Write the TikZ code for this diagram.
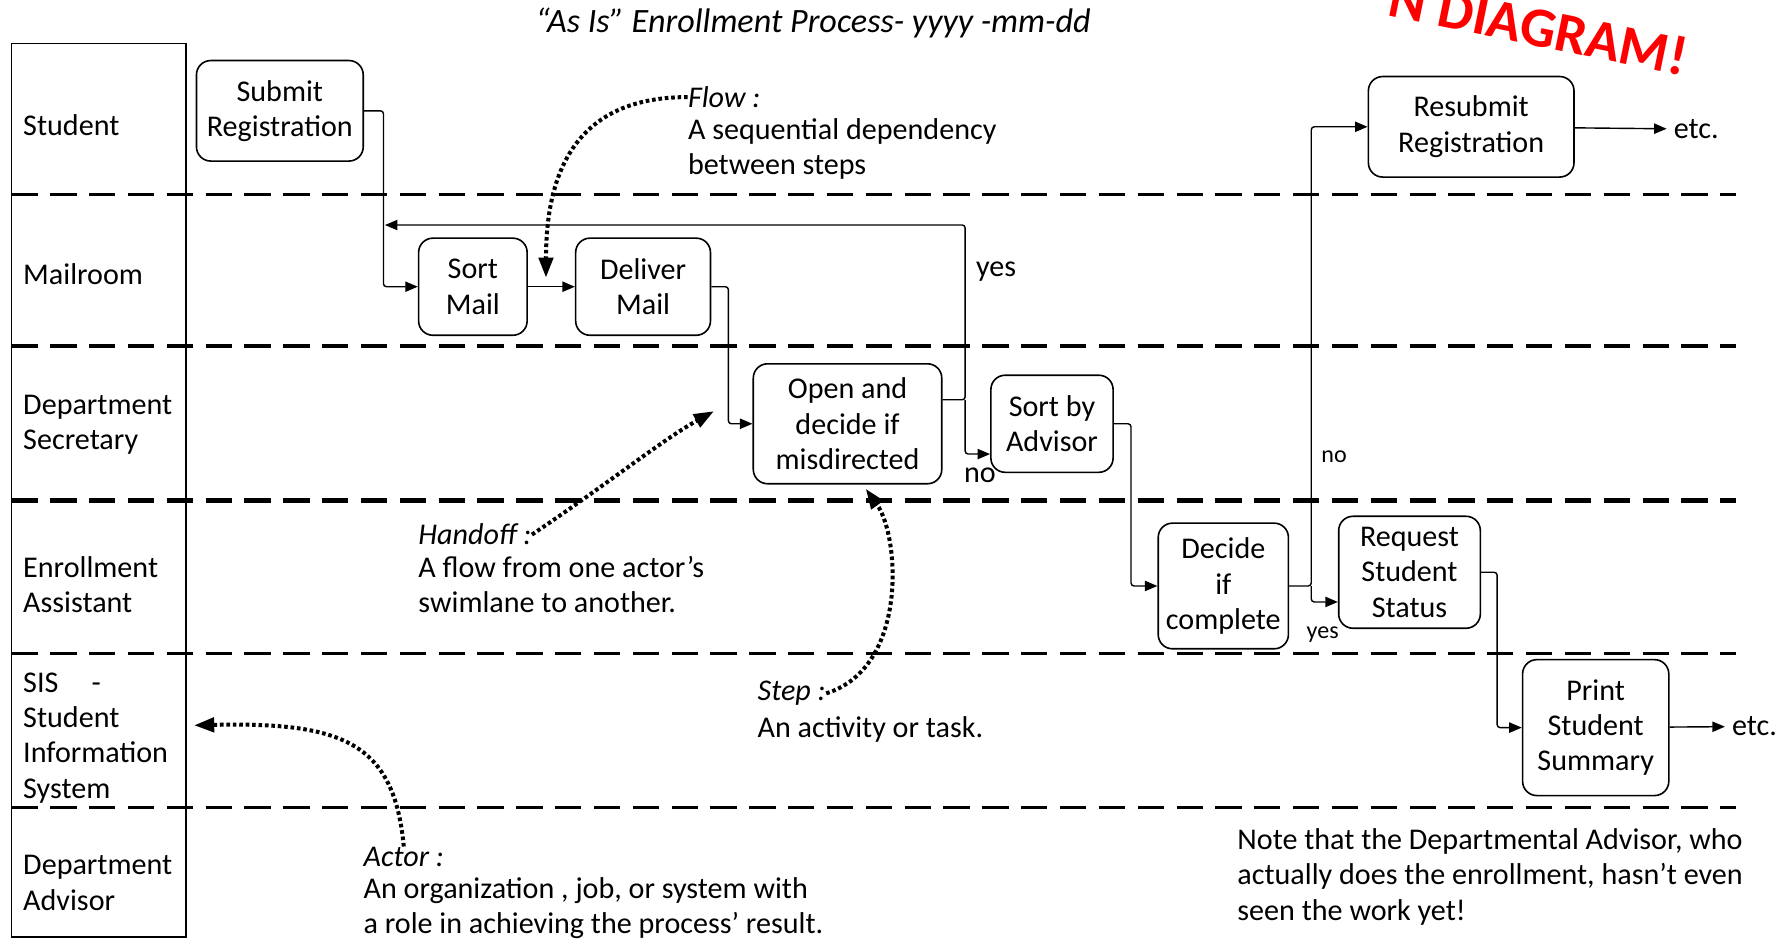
\documentclass[tikz,border=0pt]{standalone}
\usepackage{fontspec}
\setmainfont{Carlito}
\usetikzlibrary{arrows.meta,positioning}
\newcommand{\boxfont}{\fontsize{15}{17.6}\selectfont}
\newcommand{\tinyfont}{\fontsize{12}{14}\selectfont}
\newcommand{\lanewidth}{1.6pt}
\tikzset{
  stepbox/.style={draw, line width=0.8pt, rounded corners=2.5mm, align=center, inner sep=2pt, font=\boxfont},
  lanename/.style={anchor=west, align=left, inner sep=0pt, font=\boxfont},
  keyword/.style={anchor=west, inner sep=0pt, font=\boxfont\itshape},
  note/.style={anchor=north west, align=left, inner sep=0pt, font=\boxfont},
  link/.style={draw, line width=0.7pt, rounded corners=1.5pt, -{Triangle[length=2.2mm,width=1.8mm]}},
  hint/.style={line width=2pt, dash pattern=on 1.8pt off 1.4pt, -{Triangle[length=3.5mm,width=2.5mm]}},
  lanesep/.style={line width=\lanewidth, dash pattern=on 4.6mm off 2.2mm}
}

\begin{document}
\begin{tikzpicture}[x=0.2mm, y=-0.2mm]
\useasboundingbox (0,0) rectangle (1568,826);

% title and stamp
\node[font=\fontsize{17}{20}\selectfont\itshape] (title) at (712,20) {“As Is” Enrollment Process- yyyy -mm-dd};
\node[text=red, font=\fontsize{28}{32}\selectfont\bfseries, rotate=-11.5] (stamp) at (1347,24) {N DIAGRAM!};

% actors
\draw[line width=0.9pt] (10,38) rectangle (163,820);
\foreach \y in {170,303,572,707}
  \draw[lanesep] (10,\y) -- (1520,\y);
\draw[lanesep, line width=2.2pt] (10,438) -- (1520,438);

\node[lanename] (student) at (20,110) {Student};
\node[lanename] (mailroom) at (20,240) {Mailroom};
\node[lanename] (secretary) at (20,372) {Department\\Secretary};
\node[lanename] (assistant) at (20,512) {Enrollment\\Assistant};
\node[lanename] (sis) at (20,646) {SIS\hspace{1.1em}-\\Student\\Information\\System};
\node[lanename] (advisor) at (20,773) {Department\\Advisor};

% steps
\node[stepbox, minimum width=2.92cm, minimum height=1.76cm] (submit) at (245,97) {Submit\\Registration};
\node[stepbox, minimum width=1.9cm, minimum height=1.7cm] (sortmail) at (414,251) {Sort\\Mail};
\node[stepbox, minimum width=2.36cm, minimum height=1.7cm] (deliver) at (563,251) {Deliver\\Mail};
\node[stepbox, minimum width=3.3cm, minimum height=2.1cm] (opendecide) at (742,371) {Open and\\decide if\\misdirected};
\node[stepbox, minimum width=2.14cm, minimum height=1.7cm] (sortadv) at (921,371) {Sort by\\Advisor};
\node[stepbox, minimum width=2.28cm, minimum height=2.2cm] (complete) at (1071,513) {Decide\\if\\complete};
\node[stepbox, minimum width=2.48cm, minimum height=1.96cm] (request) at (1234,501) {Request\\Student\\Status};
\node[stepbox, minimum width=3.6cm, minimum height=1.76cm] (resubmit) at (1288,111) {Resubmit\\Registration};
\node[stepbox, minimum width=2.56cm, minimum height=2.38cm] (print) at (1397,637) {Print\\Student\\Summary};

\node[font=\boxfont] (etcA) at (1485,113) {etc.};
\node[font=\boxfont] (etcB) at (1536,636) {etc.};

% flows
\coordinate (loopback) at (337,197);
\coordinate (misdir) at (845,350);
\coordinate (iscomplete) at (1148,513);

\draw[link] (submit.east) -- ++(17,0) |- (sortmail.west);
\draw[link] (sortmail) -- (deliver);
\draw[link] (deliver.east) -- ++(15,0) |- (opendecide.west);
\draw[link] (opendecide.east |- misdir) -- (misdir) |- (loopback);
\draw[link] (misdir) |- ([yshift=-5.3mm]sortadv.west);
\draw[link] (sortadv.east) -- ++(15,0) |- (complete.west);
\draw[link] (complete.east) -- (iscomplete) |- (resubmit.west);
\draw[link] (iscomplete) |- ([yshift=-5.2mm]request.west);
\draw[link] (request.east) -- ++(14,0) |- (print.west);
\draw[link] (resubmit) -- (etcA);
\draw[link] (print) -- (etcB);

\node[font=\boxfont] (yesA) at (872,238) {yes};
\node[font=\boxfont] (noA) at (858,416) {no};
\node[font=\tinyfont] (noB) at (1168,400) {no};
\node[font=\tinyfont] (yesB) at (1158,556) {yes};

% legend
\node[keyword] (flowkey) at (602,85) {Flow :};
\node[note, below=5pt of flowkey.south west, anchor=north west] (flowtxt) {A sequential dependency\\between steps};
\node[keyword] (handkey) at (366,468) {Handoff :};
\node[note, below=5pt of handkey.south west, anchor=north west] (handtxt) {A flow from one actor’s\\swimlane to another.};
\node[keyword] (stepkey) at (663,607) {Step :};
\node[note, below=5pt of stepkey.south west, anchor=north west] (steptxt) {An activity or task.};
\node[keyword] (actorkey) at (318,750) {Actor :};
\node[note, below=5pt of actorkey.south west, anchor=north west] (actortxt) {An organization , job, or system with\\a role in achieving the process’ result.};
\node[note] (remark) at (1083,725) {Note that the Departmental Advisor, who\\actually does the enrollment, hasn’t even\\seen the work yet!};

\coordinate (flowtip) at (478,243);
\coordinate (handtip) at (625,360);
\coordinate (steptip) at (758,428);
\coordinate (actortip) at (170,635);
\draw[hint] (flowkey.west) .. controls (530,85) and (478,120) .. (flowtip);
\draw[hint] (handkey.east) .. controls (530,425) and (580,385) .. (handtip);
\draw[hint] (stepkey.east) .. controls (795,585) and (788,470) .. (steptip);
\draw[hint] (actorkey.north) .. controls (345,650) and (300,632) .. (actortip);
\end{tikzpicture}
\end{document}
